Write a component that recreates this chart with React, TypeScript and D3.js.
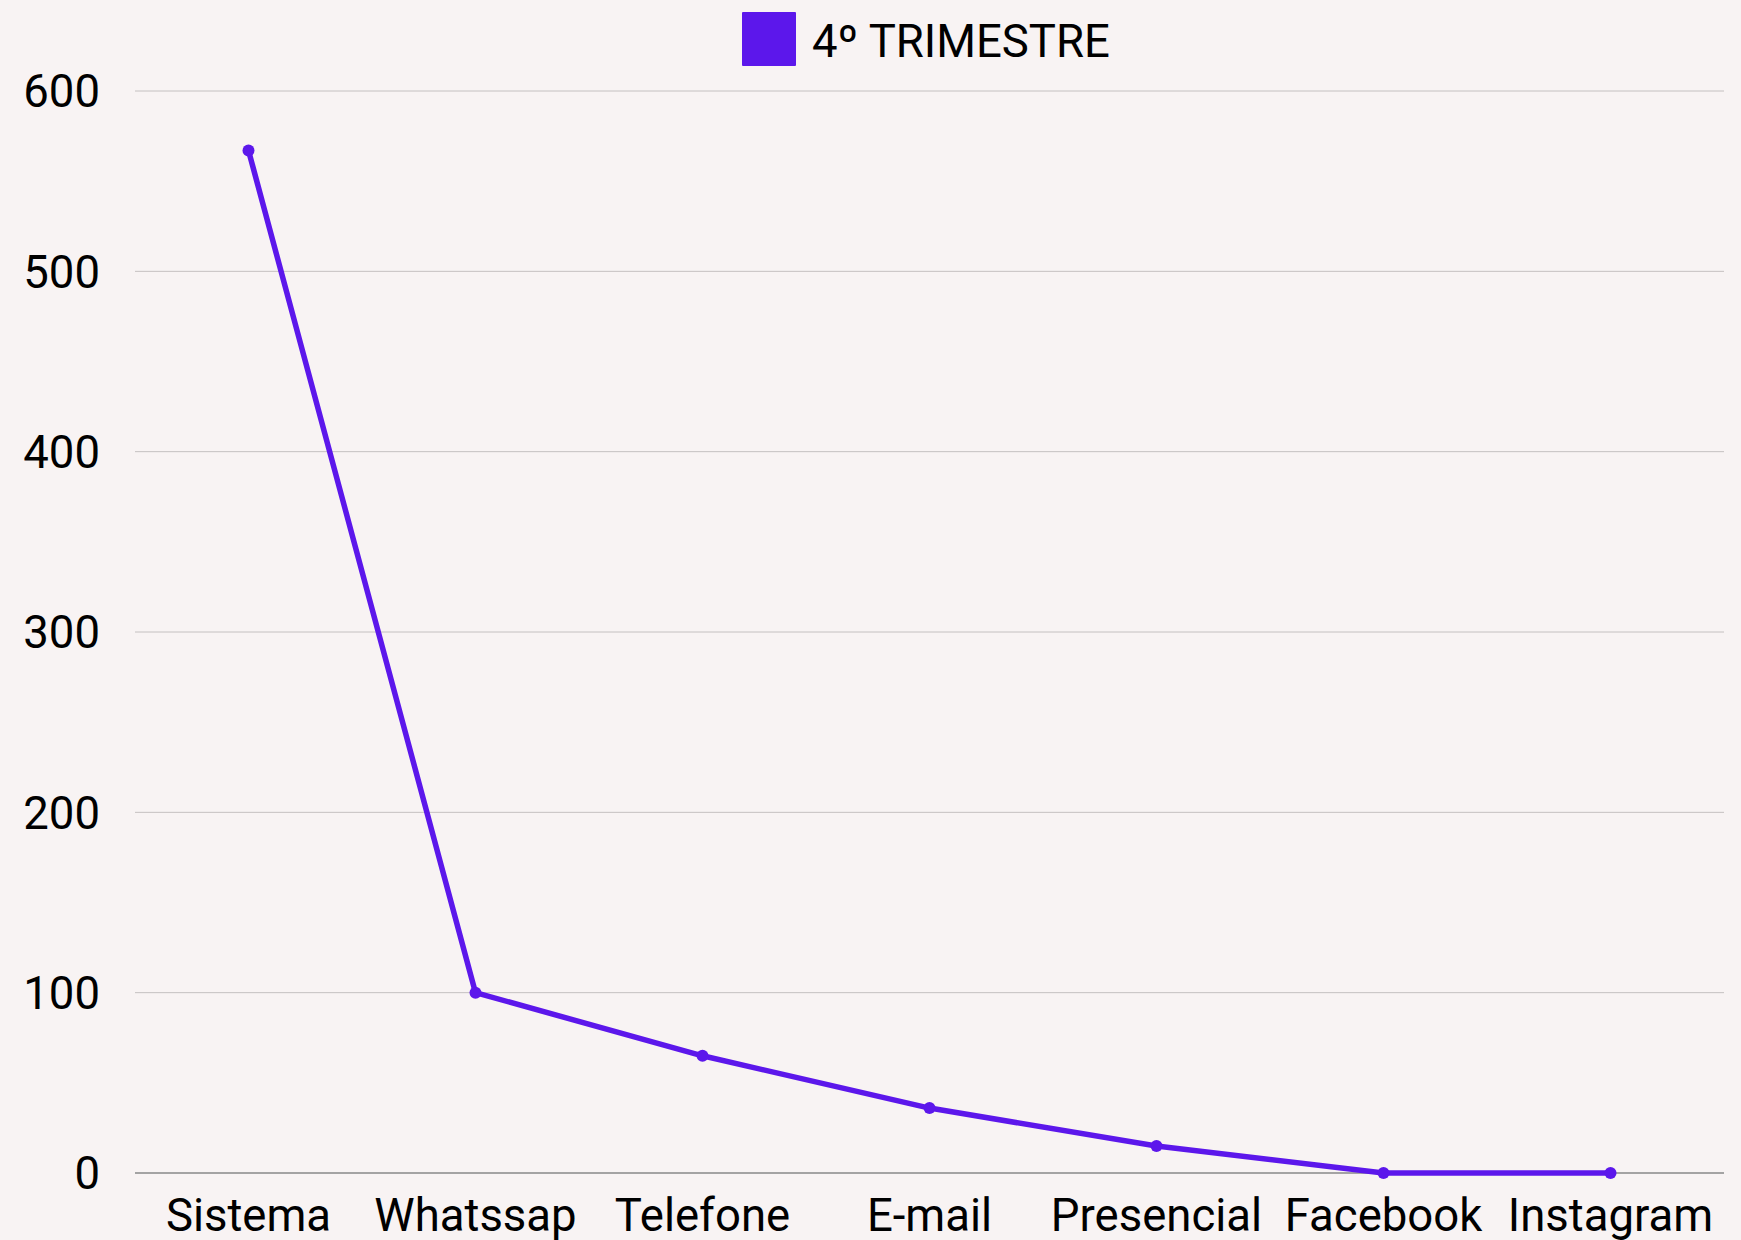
import React, { useEffect, useRef } from 'react';
import * as d3 from 'd3';

const categories = ['Sistema', 'Whatssap', 'Telefone', 'E-mail', 'Presencial', 'Facebook', 'Instagram'];
const values = [567, 100, 65, 36, 15, 0, 0];
const yTicks = [0, 100, 200, 300, 400, 500, 600];
const seriesName = '4º TRIMESTRE';

const App = () => {
  const svgRef = useRef<SVGSVGElement>(null);

  useEffect(() => {
    const width = 1741;
    const height = 1240;
    const margin = { top: 91, right: 17, bottom: 67, left: 135 };
    const color = '#5c17eb';
    const font = 'Roboto, sans-serif';
    const fontSize = 45.5;

    const svg = d3.select(svgRef.current);
    svg.selectAll('*').remove();

    svg.append('rect').attr('width', width).attr('height', height).attr('fill', '#f8f3f3');

    const x = d3.scalePoint()
      .domain(categories)
      .range([margin.left, width - margin.right])
      .padding(0.5);
    const y = d3.scaleLinear().domain([0, 600]).range([height - margin.bottom, margin.top]);

    // grid lines
    svg.append('g')
      .selectAll('line')
      .data(yTicks)
      .join('line')
      .attr('x1', margin.left)
      .attr('x2', width - margin.right)
      .attr('y1', (d) => y(d))
      .attr('y2', (d) => y(d))
      .attr('stroke', (d) => (d === 0 ? '#888' : '#c4c0c0'))
      .attr('stroke-width', (d) => (d === 0 ? 1.5 : 1));

    // y labels
    svg.append('g')
      .selectAll('text')
      .data(yTicks)
      .join('text')
      .attr('x', 100)
      .attr('y', (d) => y(d))
      .attr('dy', '0.36em')
      .attr('text-anchor', 'end')
      .attr('font-family', font)
      .attr('font-size', fontSize)
      .attr('fill', '#000')
      .text((d) => d);

    // x labels
    svg.append('g')
      .selectAll('text')
      .data(categories)
      .join('text')
      .attr('x', (d) => x(d)!)
      .attr('y', 1231)
      .attr('text-anchor', 'middle')
      .attr('font-family', font)
      .attr('font-size', fontSize)
      .attr('fill', '#000')
      .text((d) => d);

    const line = d3.line<number>()
      .x((_, i) => x(categories[i])!)
      .y((d) => y(d));

    svg.append('path')
      .datum(values)
      .attr('d', line)
      .attr('fill', 'none')
      .attr('stroke', color)
      .attr('stroke-width', 5.5)
      .attr('stroke-linejoin', 'round');

    svg.append('g')
      .selectAll('circle')
      .data(values)
      .join('circle')
      .attr('cx', (_, i) => x(categories[i])!)
      .attr('cy', (d) => y(d))
      .attr('r', 6)
      .attr('fill', color);

    // legend
    const legend = svg.append('g');
    legend.append('rect')
      .attr('x', 742)
      .attr('y', 12)
      .attr('width', 54)
      .attr('height', 54)
      .attr('rx', 1)
      .attr('fill', color);
    legend.append('text')
      .attr('x', 812)
      .attr('y', 57)
      .attr('font-family', font)
      .attr('font-size', fontSize)
      .attr('fill', '#000')
      .text(seriesName);
  }, []);

  return (
    <svg
      ref={svgRef}
      width={1741}
      height={1240}
      style={{ position: 'absolute', left: 0, top: 0, display: 'block' }}
    ></svg>
  );
};

export default App;
